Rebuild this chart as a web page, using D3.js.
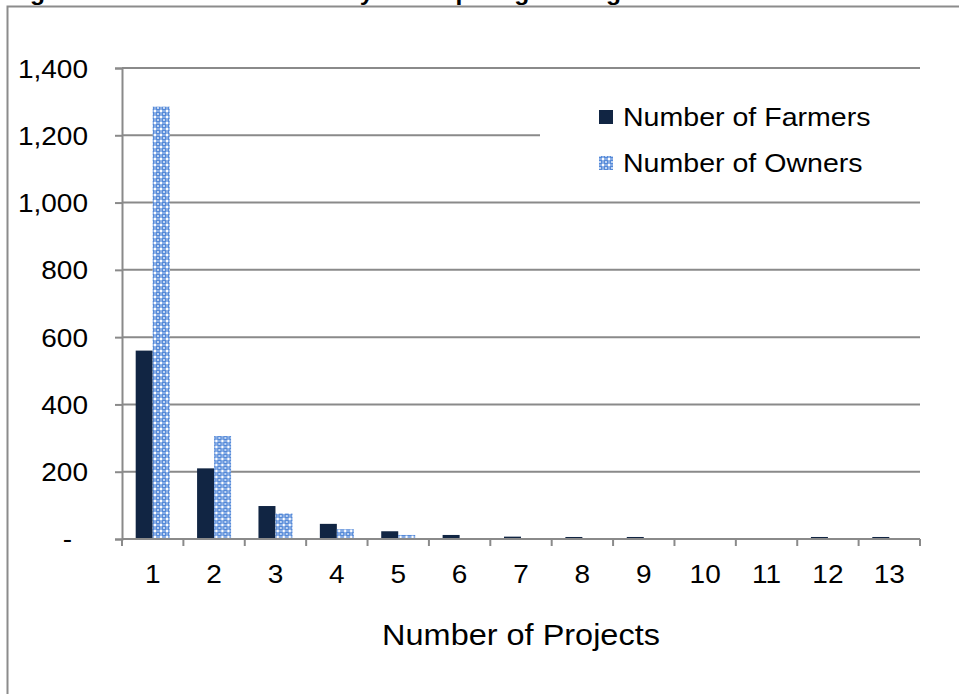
<!DOCTYPE html>
<html>
<head>
<meta charset="utf-8">
<script src="https://cdn.jsdelivr.net/npm/d3@7/dist/d3.min.js"></script>
<style>
  html, body { margin: 0; padding: 0; background: #fff; }
  svg { display: block; }
  text { font-family: Arial, "Liberation Sans", sans-serif; fill: #000; }
</style>
</head>
<body>
<svg id="chart" width="959" height="694"></svg>
<script>
// Number of projects each participant was involved in
const categories = ["1", "2", "3", "4", "5", "6", "7", "8", "9", "10", "11", "12", "13"];
const farmers = [560, 210, 98, 45, 23, 12, 7, 6, 6, 0, 0, 6, 6];
const owners  = [1285, 306, 76, 29, 12, 0, 0, 0, 0, 0, 0, 0, 0];
const seriesNames = ["Number of Farmers", "Number of Owners"];
const yTicks = [0, 200, 400, 600, 800, 1000, 1200, 1400];
const titleText = "Figure 3: Farmers & Owners by Participating in Programs";
const xTitle = "Number of Projects";

const svg = d3.select("#chart");
const W = 959, H = 694;
const plot = { left: 122, right: 920, top: 68, bottom: 539 };
const stretch = 1.12;          // text is drawn slightly wide
const gridColor = "#8a8a8a";
const farmerColor = "#112543";

// wide text helper
function label(g, x, y, str, size, anchor, weight) {
  return g.append("text")
    .attr("transform", `translate(${x},${y}) scale(${stretch},1)`)
    .attr("text-anchor", anchor || "start")
    .attr("font-size", size)
    .attr("font-weight", weight || "normal")
    .text(str);
}

// patterned fill for owners
const defs = svg.append("defs");
const pat = defs.append("pattern")
  .attr("id", "owners-pat")
  .attr("patternUnits", "userSpaceOnUse")
  .attr("width", 6).attr("height", 6);
pat.append("rect").attr("width", 6).attr("height", 6).attr("fill", "#5489d8");
pat.append("rect").attr("x", 2.5).attr("y", 0).attr("width", 1).attr("height", 6).attr("fill", "#b9d0f2");
pat.append("rect").attr("x", 0).attr("y", 2.5).attr("width", 6).attr("height", 1).attr("fill", "#b9d0f2");
pat.append("circle").attr("cx", 3).attr("cy", 3).attr("r", 1.2).attr("fill", "#ffffff");
[[0,0],[6,0],[0,6],[6,6]].forEach(([cx, cy]) =>
  pat.append("circle").attr("cx", cx).attr("cy", cy).attr("r", 1.1).attr("fill", "#dbe7f9"));

// title (runs off the top edge)
label(svg, 8, 0, titleText, 22, "start", "bold");

// outer frame
svg.append("path")
  .attr("d", `M7.5,${H + 5} V6.5 H${W + 5}`)
  .attr("fill", "none").attr("stroke", "#8c8c8c").attr("stroke-width", 2);

// scales
const x = d3.scaleBand().domain(categories).range([plot.left, plot.right]).paddingInner(0).paddingOuter(0);
const barW = 17;
const xs = d3.scaleBand().domain(seriesNames)
  .range([x.bandwidth() / 2 - barW, x.bandwidth() / 2 + barW]);
const y = d3.scaleLinear().domain([0, 1400]).range([plot.bottom, plot.top]);

// gridlines
const grid = svg.append("g");
grid.selectAll("line").data(yTicks.filter(d => d > 0)).join("line")
  .attr("x1", plot.left).attr("x2", plot.right)
  .attr("y1", d => y(d)).attr("y2", d => y(d))
  .attr("stroke", gridColor).attr("stroke-width", 2);

// y axis
const yAxis = svg.append("g").attr("transform", `translate(${plot.left},0)`)
  .call(d3.axisLeft(y).tickValues(yTicks).tickSize(7).tickFormat(""));
yAxis.select(".domain").attr("stroke", gridColor).attr("stroke-width", 2);
yAxis.selectAll(".tick line").attr("stroke", gridColor).attr("stroke-width", 2);

const yLab = svg.append("g");
yTicks.forEach(v => {
  if (v === 0) label(yLab, 72, y(v) + 9, "-", 25, "end");
  else label(yLab, 88, y(v) + 9.5, d3.format(",")(v), 25, "end");
});

// bars
const groups = svg.append("g").selectAll("g").data(categories).join("g")
  .attr("transform", d => `translate(${x(d)},0)`);
groups.append("rect")
  .attr("x", xs(seriesNames[0])).attr("width", xs.bandwidth())
  .attr("y", (d, i) => y(farmers[i])).attr("height", (d, i) => y(0) - y(farmers[i]))
  .attr("fill", farmerColor);
groups.append("rect")
  .attr("x", xs(seriesNames[1])).attr("width", xs.bandwidth())
  .attr("y", (d, i) => y(owners[i])).attr("height", (d, i) => y(0) - y(owners[i]))
  .attr("fill", "url(#owners-pat)");

// x axis with ticks between categories
const xAxisG = svg.append("g");
xAxisG.append("line")
  .attr("x1", plot.left).attr("x2", plot.right)
  .attr("y1", plot.bottom).attr("y2", plot.bottom)
  .attr("stroke", gridColor).attr("stroke-width", 2);
const boundaries = categories.map(c => x(c)).concat([plot.right]);
xAxisG.selectAll("line.tk").data(boundaries).join("line").attr("class", "tk")
  .attr("x1", d => d).attr("x2", d => d)
  .attr("y1", plot.bottom).attr("y2", plot.bottom + 7)
  .attr("stroke", gridColor).attr("stroke-width", 2);
categories.forEach(c => label(xAxisG, x(c) + x.bandwidth() / 2, 583, c, 25, "middle"));

label(svg, (plot.left + plot.right) / 2, 645, xTitle, 29, "middle");

// legend
const leg = svg.append("g");
leg.append("rect").attr("x", 540).attr("y", 88).attr("width", 385).attr("height", 100).attr("fill", "#fff");
const legY = [110, 156];
seriesNames.forEach((s, i) => {
  leg.append("rect").attr("x", 599).attr("y", legY[i]).attr("width", 14).attr("height", 14)
    .attr("fill", i === 0 ? farmerColor : "url(#owners-pat)");
  label(leg, 623, legY[i] + 16, s, 25.5, "start");
});
</script>
</body>
</html>
